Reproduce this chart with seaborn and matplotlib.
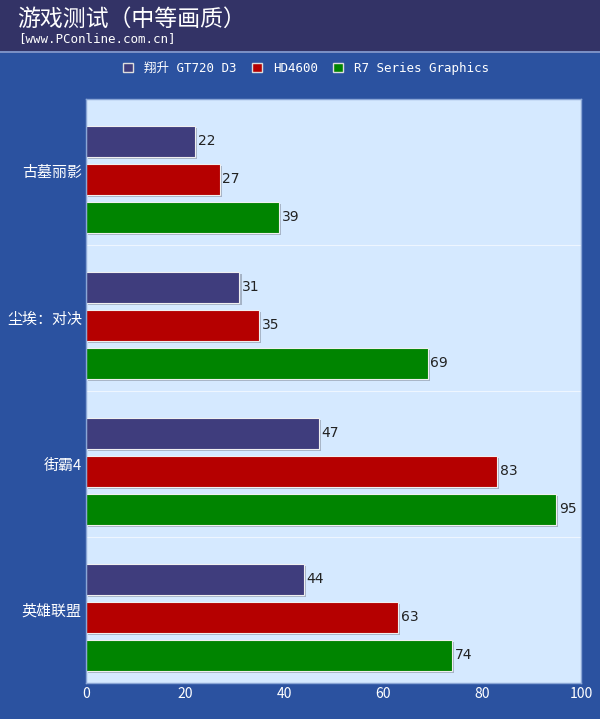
import pandas as pd
import matplotlib
matplotlib.use('Agg')
import matplotlib.pyplot as plt
import matplotlib.patheffects as pe
from matplotlib.patches import Patch
import seaborn as sns

# chart data
games = ['古墓丽影', '尘埃：对决', '街霸4', '英雄联盟']
cards = ['翔升 GT720 D3', 'HD4600', 'R7 Series Graphics']
gt720 = [22, 31, 47, 44]
hd4600 = [27, 35, 83, 63]
r7 = [39, 69, 95, 74]
x_ticks = [0, 20, 40, 60, 80, 100]

colors = ['#3f3d7d', '#b50000', '#008400']

df = pd.DataFrame({
    'game': games * 3,
    'card': [cards[0]] * 4 + [cards[1]] * 4 + [cards[2]] * 4,
    'fps': gt720 + hd4600 + r7,
})

sns.set_theme(style='white')
plt.rcParams['font.family'] = ['Noto Sans CJK SC', 'DejaVu Sans']

fig = plt.figure(figsize=(6, 7.19), dpi=100)
fig.patch.set_facecolor('#2b52a0')

# header band
fig.patches.append(plt.Rectangle((0, 1 - 51 / 719), 1, 51 / 719, transform=fig.transFigure,
                                 facecolor='#333366', edgecolor='none', zorder=0))
fig.lines.append(plt.Line2D([0, 1], [1 - 52 / 719] * 2, transform=fig.transFigure,
                            color='#8a9ccc', lw=1.2))
fig.text(17 / 600, 1 - 19.5 / 719, '游戏测试（中等画质）', color='white', fontsize=16.5,
         va='center', ha='left')
fig.text(18 / 600, 1 - 38.5 / 719, '[www.PConline.com.cn]', color='white', fontsize=9,
         va='center', ha='left', family='DejaVu Sans Mono')

ax = fig.add_axes([86 / 600, 36 / 719, 495 / 600, 584 / 719])
ax.set_facecolor('#d5e9ff')

sns.barplot(data=df, y='game', x='fps', hue='card', hue_order=cards, order=games,
            palette=colors, saturation=1, orient='h', width=0.78, gap=0.17, ax=ax,
            edgecolor='#f0f0f0', linewidth=0.8, legend=False)

shadow = [pe.SimplePatchShadow(offset=(1.5, -1.5), shadow_rgbFace='#9aa6b8', alpha=0.8),
          pe.Normal()]
for bar in ax.patches:
    bar.set_path_effects(shadow)

for cont in ax.containers:
    ax.bar_label(cont, padding=2, fontsize=10, color='#222222', family='DejaVu Sans')

ax.set_xlim(0, 100)
ax.set_ylim(3.45, -0.55)
ax.set_xticks(x_ticks)
ax.set_yticks([i - 0.05 for i in range(len(games))], games)
ax.tick_params(axis='x', colors='white', labelsize=10, length=0, pad=3)
ax.tick_params(axis='y', colors='white', labelsize=10.8, length=0, pad=3)
for sep in [0.45, 1.45, 2.45]:
    ax.axhline(sep, color='#eef6ff', lw=0.8)
for s in ax.spines.values():
    s.set_color('#8aa6d6')
    s.set_linewidth(1)
ax.set_xlabel('')
ax.set_ylabel('')

handles = [Patch(facecolor=c, edgecolor='#dddddd', linewidth=1) for c in colors]
fig.legend(handles, cards, loc='center', bbox_to_anchor=(306 / 600, 1 - 68.5 / 719), ncol=3,
           frameon=False, labelcolor='white', handlelength=0.8,
           handleheight=0.8, handletextpad=0.9, columnspacing=1.2,
           prop={'family': ['DejaVu Sans Mono', 'Noto Sans CJK SC'], 'size': 9})

fig.savefig('out.png', dpi=100, facecolor=fig.get_facecolor())
